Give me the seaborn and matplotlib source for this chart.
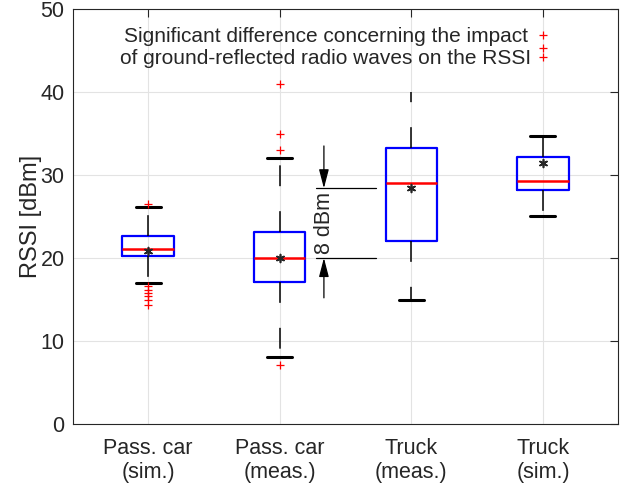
import numpy as np
import pandas as pd
import seaborn as sns
import matplotlib.pyplot as plt

# === Data (RSSI in dBm) ===
labels = ["Pass. car\n(sim.)", "Pass. car\n(meas.)", "Truck\n(meas.)", "Truck\n(sim.)"]
q1 = [20.2, 17.1, 22.1, 28.2]
medians = [21.1, 20.0, 29.0, 29.3]
q3 = [22.6, 23.1, 33.2, 32.2]
whisk_lo = [17.0, 8.1, 15.0, 25.0]
whisk_hi = [26.2, 32.0, 40.0, 34.7]
means = [20.9, 20.0, 28.4, 31.4]
outliers = [
    [26.5, 16.6, 16.2, 15.8, 15.4, 15.0, 14.3],
    [41.0, 35.0, 33.0, 7.1],
    [],
    [46.9, 45.3, 44.2],
]
note = "Significant difference concerning the impact\nof ground-reflected radio waves on the RSSI"

# === Style ===
sns.set_theme(style="whitegrid")
plt.rcParams['font.family'] = ['Liberation Sans', 'DejaVu Sans']
plt.rcParams['lines.scale_dashes'] = False
dark = '#262626'

fig = plt.figure(figsize=(6.22, 4.87), dpi=100, facecolor='white')
ax = fig.add_axes([73 / 622, 1 - 424 / 487, 545 / 622, 415 / 487])
ax.set_facecolor('white')

pos = np.arange(1, len(labels) + 1)
stats = [
    dict(label=l, q1=a, med=m, q3=b, whislo=lo, whishi=hi, fliers=f)
    for l, a, m, b, lo, hi, f in zip(labels, q1, medians, q3, whisk_lo, whisk_hi, outliers)
]

bp = ax.bxp(
    stats, positions=pos, widths=0.39, capwidths=0.19,
    showfliers=True, patch_artist=False,
    boxprops=dict(color='#0000ff', linewidth=1.6),
    medianprops=dict(color='#ff0000', linewidth=1.8),
    whiskerprops=dict(color='black', linewidth=1.1, linestyle=(0, (15, 18))),
    capprops=dict(color='black', linewidth=2.2),
    flierprops=dict(marker='+', markeredgecolor='#ff0000', markersize=6, markeredgewidth=0.9),
    zorder=3,
)
# upper cap of truck (meas.) not shown in the reference
bp['caps'][5].set_visible(False)

# means as asterisks
mean_df = pd.DataFrame({'pos': pos, 'mean': means})
sns.scatterplot(data=mean_df, x='pos', y='mean', marker=(6, 2, 0), s=32,
                color=dark, linewidth=1.2, edgecolor=dark, ax=ax, zorder=4, legend=False)

# === 8 dBm difference annotation ===
xa = 2.336
for y0, y1 in [(33.5, means[2]), (15.2, means[1])]:
    ax.annotate('', xy=(xa, y1), xytext=(xa, y0),
                arrowprops=dict(arrowstyle='-|>,head_length=1.15,head_width=0.3',
                                color='black', lw=0.9, shrinkA=0, shrinkB=0,
                                mutation_scale=10))
for y in [means[2], means[1]]:
    ax.plot([2.276, 2.731], [y, y], color='black', lw=0.9, zorder=2)
ax.text(xa + 0.005, (means[1] + means[2]) / 2, '8 dBm', rotation=90,
        ha='center', va='center', fontsize=15.5, color=dark,
        bbox=dict(facecolor='white', edgecolor='none', pad=1), zorder=3)

ax.text(2.35, 45.4, note, ha='center', va='center', fontsize=15, color=dark,
        linespacing=1.22, zorder=5)

# === Axes ===
ax.set_xlim(0.43, 4.57)
ax.set_ylim(0, 50)
ax.set_yticks(np.arange(0, 51, 10))
ax.set_xticks(pos)
ax.set_xticklabels(labels, fontsize=15.5, color=dark)
ax.tick_params(axis='y', labelsize=15.5, labelcolor=dark)
ax.tick_params(direction='in', top=True, right=True, length=6, width=0.8,
               color=dark, pad=6)
ax.tick_params(axis='x', pad=10)
ax.set_ylabel('RSSI [dBm]', fontsize=17, color=dark, labelpad=-1)
ax.set_xlabel('')

ax.grid(True, color='#e3e3e3', linewidth=0.8)
ax.set_axisbelow(True)
for s in ax.spines.values():
    s.set_visible(True)
    s.set_color(dark)
    s.set_linewidth(0.8)

plt.savefig('out.png', dpi=100, facecolor='white')
